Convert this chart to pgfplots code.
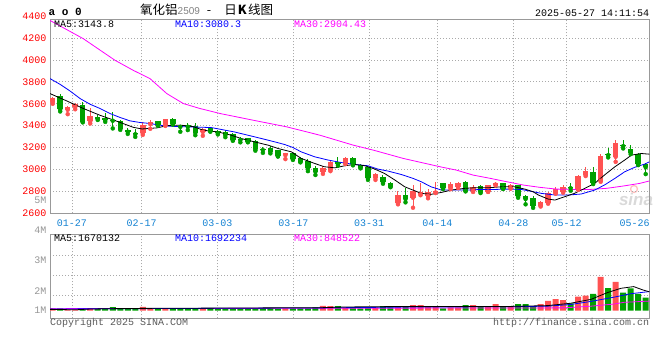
\documentclass[border=0pt]{standalone}
\usepackage{pgfplots}
\pgfplotsset{compat=1.18}
\usepackage{pgfplotstable}
\usepackage{fontspec}
\setmonofont{Liberation Mono}
\setsansfont{Liberation Sans}
\newfontfamily\cjk{Noto Sans CJK SC}
\definecolor{upc}{RGB}{255,82,82}
\definecolor{dnc}{RGB}{0,160,0}
\definecolor{framec}{RGB}{153,153,153}
\definecolor{gridc}{RGB}{170,170,170}
\definecolor{datec}{RGB}{20,130,210}
\definecolor{labgray}{RGB}{150,150,150}
\definecolor{ma10c}{RGB}{0,0,255}
\definecolor{ma30c}{RGB}{255,0,255}
\definecolor{copyc}{RGB}{90,90,90}

\pgfplotstableread{
i o h l c
0 3615 3665 3600 3650
2 3545 3578 3505 3572
3 3572 3610 3550 3600
5 3440 3562 3420 3490
12 3330 3438 3316 3405
13 3414 3448 3372 3434
15 3403 3465 3398 3460
20 3343 3380 3308 3374
31 3131 3155 3095 3152
36 2980 3034 2960 3015
37 2995 3085 2985 3070
39 3055 3112 3050 3107
43 2925 2970 2905 2955
46 2691 2803 2682 2767
48 2742 2858 2651 2803
49 2773 2873 2765 2790
50 2758 2821 2737 2797
51 2790 2888 2785 2800
53 2833 2885 2820 2872
54 2843 2890 2830 2873
56 2805 2855 2795 2842
58 2797 2862 2795 2858
59 2862 2890 2855 2880
61 2830 2870 2825 2862
65 2670 2715 2662 2706
66 2695 2795 2688 2788
67 2782 2840 2780 2818
68 2797 2855 2788 2836
70 2818 2950 2815 2940
71 2950 3019 2940 2988
73 2897 3140 2888 3122
75 3116 3268 3070 3243
}\upT

\pgfplotstableread{
i o h l c
1 3668 3690 3530 3548
4 3593 3617 3430 3435
6 3478 3500 3452 3460
7 3472 3520 3435 3450
8 3455 3525 3375 3445
9 3444 3450 3362 3371
10 3360 3378 3325 3345
11 3337 3371 3298 3322
14 3440 3442 3400 3404
16 3462 3468 3410 3415
17 3398 3404 3345 3389
18 3402 3420 3360 3390
19 3395 3420 3313 3335
21 3380 3385 3345 3350
22 3352 3362 3320 3330
23 3343 3365 3295 3315
24 3322 3330 3262 3268
25 3278 3298 3248 3269
26 3283 3288 3248 3253
27 3258 3268 3172 3183
28 3186 3207 3152 3177
29 3192 3216 3147 3162
30 3177 3180 3118 3122
32 3152 3158 3088 3092
33 3107 3115 3065 3070
34 3077 3095 2985 3010
35 3016 3034 2950 2980
38 3064 3116 3035 3050
40 3107 3112 3038 3048
41 3040 3050 3010 3018
42 3025 3034 2905 2920
44 2934 2950 2870 2882
45 2879 2882 2838 2843
47 2767 2828 2700 2730
52 2873 2880 2822 2828
55 2888 2895 2800 2805
57 2850 2855 2785 2793
60 2875 2878 2822 2825
62 2858 2862 2742 2755
63 2757 2767 2682 2730
64 2742 2758 2650 2670
69 2838 2873 2806 2829
72 2973 3019 2867 2880
74 3140 3192 3110 3131
76 3222 3268 3192 3213
77 3183 3222 3140 3152
78 3140 3150 3040 3048
79 3050 3055 2958 3020
}\dnT

\pgfplotstableread{
x y
-0.36 3693
1.87 3626
4.08 3557
6.3 3495
8.53 3441
10.74 3385
11.9 3370
13.9 3380
15.2 3400
17 3405
18.7 3392
19.8 3365
20.7 3352
22 3343
23.8 3313
25.1 3283
26.9 3252
28.7 3222
30 3192
31.8 3161
33.1 3101
34.9 3055
36.2 3025
37.6 3015
38.9 3034
40.2 3046
41.6 3034
42.9 3004
44.2 2964
45.6 2903
46.9 2842
48 2812
49.1 2782
50.4 2773
51.8 2791
53.1 2812
54.9 2828
56.2 2833
58 2833
59.8 2842
61.5 2842
62.9 2821
64 2797
64.7 2767
66 2730
66.9 2721
68.2 2751
69.5 2782
70.9 2828
72.2 2873
73.5 2949
74.9 3025
76.2 3086
77.1 3131
78.4 3146
79.48 3140
}\maFive

\pgfplotstableread{
x y
-0.36 3830
0.97 3778
2.3 3717
3.64 3648
4.97 3596
6.3 3557
7.63 3511
8.97 3475
10.3 3444
11.63 3429
12.96 3420
14.3 3404
15.63 3395
18.29 3389
21.1 3383
22.5 3365
24.2 3343
26 3313
27.8 3283
29.6 3252
30.9 3228
32 3201
33.1 3161
34.9 3116
36.7 3086
38.4 3064
40.2 3046
42 3034
43.3 3004
44.7 2985
46.4 2955
48 2919
49.1 2888
50.4 2842
51.8 2812
53.6 2812
55.3 2812
57.1 2818
58.9 2818
60.7 2821
62.4 2818
64 2797
65.1 2782
66.9 2767
68.7 2767
70.4 2776
72.2 2812
73.5 2858
74.9 2919
76.2 2979
77.5 3019
78.9 3050
79.48 3070
}\maTen

\pgfplotstableread{
x y
-0.36 4361
4.08 4194
8.3 3997
10.74 3905
12.96 3830
15.2 3693
17.4 3602
19.6 3557
22.3 3511
26.7 3450
31.2 3389
35.6 3313
40.05 3222
42.7 3177
46.7 3101
51.6 3025
53.8 2994
56 2949
58.3 2919
60.5 2888
62.7 2858
64.9 2837
67.1 2821
69.4 2818
71.6 2818
73.8 2828
76 2849
78.2 2873
79.48 2895
}\maThirty

\pgfplotstableread{
i v
0 0.2
2 0.1
3 0.1
5 0.2
12 0.35
13 0.2
15 0.2
20 0.22
31 0.2
36 0.42
37 0.41
39 0.3
43 0.3
46 0.3
48 0.5
49 0.5
50 0.41
51 0.41
53 0.3
54 0.3
56 0.5
58 0.41
59 0.59
61 0.35
65 0.59
66 0.88
67 1.03
68 0.945
70 1.24
71 1.33
73 3.0
75 2.54
}\upV

\pgfplotstableread{
i v
1 0.2
4 0.12
6 0.2
7 0.2
8 0.32
9 0.2
10 0.2
11 0.2
14 0.2
16 0.2
17 0.2
18 0.2
19 0.2
21 0.2
22 0.2
23 0.2
24 0.2
25 0.18
26 0.2
27 0.2
28 0.2
29 0.2
30 0.2
32 0.2
33 0.2
34 0.2
35 0.3
38 0.41
40 0.3
41 0.21
42 0.3
44 0.41
45 0.3
47 0.41
52 0.21
55 0.5
57 0.41
60 0.41
62 0.59
63 0.59
64 0.35
69 0.65
72 1.48
74 2.0
76 1.59
77 1.98
78 1.48
79 1.15
}\dnV

\pgfplotstableread{
x y
-0.36 0.12
3 0.08
5 0.15
10 0.2
36 0.27
39 0.33
48 0.38
61 0.38
65.9 0.45
69 0.66
71.7 1.0
73.9 1.6
75.7 1.98
77.4 2.13
78.6 1.84
79.48 1.67
}\vmaFive

\pgfplotstableread{
x y
-0.36 0.15
36 0.25
48 0.33
61 0.35
65.9 0.4
69 0.55
71.7 0.82
74.8 1.2
77 1.5
79.48 1.69
}\vmaTen

\pgfplotstableread{
x y
-0.36 0.18
68 0.25
71.7 0.4
74.8 0.59
76.1 0.74
79.48 0.85
}\vmaThirty

\begin{document}
\begin{tikzpicture}
\path[use as bounding box] (0pt,0pt) rectangle (660pt,360pt);
% watermark
\node[anchor=base, text=gray!30, inner sep=0] at (636pt,155pt) {\sffamily\bfseries\itshape\fontsize{17}{17}\selectfont sina};
\draw[red!25, line width=1.3pt] (634pt,171pt) circle (3.5pt);

\begin{axis}[at={(50pt,146.7pt)}, anchor=south west, scale only axis,
  width=599.3pt, height=194.3pt,
  xmin=-0.36, xmax=79.48, ymin=2600, ymax=4374,
  axis line style={draw=framec, line width=1pt},
  xtick={2.57,11.86,21.93,32.05,42.14,51.24,61.37,68.48},
  xticklabels={01-27,02-17,03-03,03-17,03-31,04-14,04-28,05-12},
  extra x ticks={77.54}, extra x tick labels={05-26},
  extra x tick style={grid=none},
  ytick={2600,2800,...,4200},
  major tick length=0pt,
  grid=major,
  major grid style={draw=gridc, dash pattern=on 1pt off 2pt, line width=0.8pt},
  xticklabel style={font=\ttfamily\fontsize{10}{10}\selectfont, text=datec, yshift=-2.5pt},
  yticklabel style={font=\ttfamily\fontsize{10}{10}\selectfont, text=red},
  /pgf/number format/assume math mode=true,
  /pgf/number format/1000 sep={},
]
% wicks
\addplot[upc, only marks, mark=none, error bars/.cd, y dir=plus, y explicit, error mark=none,
  error bar style={upc, line width=1pt}]
  table[x=i, y=l, y error plus expr=\thisrow{h}-\thisrow{l}] {\upT};
\addplot[dnc, only marks, mark=none, error bars/.cd, y dir=plus, y explicit, error mark=none,
  error bar style={dnc, line width=1pt}]
  table[x=i, y=l, y error plus expr=\thisrow{h}-\thisrow{l}] {\dnT};
% bodies
\addplot[upc, only marks, mark=none, error bars/.cd, y dir=plus, y explicit, error mark=none,
  error bar style={upc, line width=5.5pt}]
  table[x=i, y=o, y error plus expr=\thisrow{c}-\thisrow{o}] {\upT};
\addplot[dnc, only marks, mark=none, error bars/.cd, y dir=plus, y explicit, error mark=none,
  error bar style={dnc, line width=5.5pt}]
  table[x=i, y=c, y error plus expr=\thisrow{o}-\thisrow{c}] {\dnT};
% moving averages
\addplot[ma30c, line width=0.8pt, mark=none] table[x=x,y=y] {\maThirty};
\addplot[ma10c, line width=0.8pt, mark=none] table[x=x,y=y] {\maTen};
\addplot[black, line width=0.8pt, mark=none] table[x=x,y=y] {\maFive};
\end{axis}

\begin{axis}[at={(50pt,41.7pt)}, anchor=south west, scale only axis,
  width=599.3pt, height=84pt,
  xmin=-0.36, xmax=79.48, ymin=-0.671, ymax=6.75,
  axis line style={draw=framec, line width=1pt},
  xtick={2.57,11.86,21.93,32.05,42.14,51.24,61.37,68.48},
  xticklabels={},
  ytick={1.325,3.13,4.92}, yticklabels={},
  major tick length=0pt,
  grid=major,
  major grid style={draw=gridc, dash pattern=on 1pt off 2pt, line width=0.8pt},
]
\addplot[ybar, bar width=6pt, bar shift=0pt, fill=upc, draw=none] table[x=i,y=v] {\upV};
\addplot[ybar, bar width=6pt, bar shift=0pt, fill=dnc, draw=none] table[x=i,y=v] {\dnV};
\addplot[ma30c, line width=0.8pt, mark=none] table[x=x,y=y] {\vmaThirty};
\addplot[ma10c, line width=0.8pt, mark=none] table[x=x,y=y] {\vmaTen};
\addplot[black, line width=0.8pt, mark=none] table[x=x,y=y] {\vmaFive};
\end{axis}

% header texts
\node[anchor=base west, inner sep=0] at (48.5pt,344.3pt) {\ttfamily\bfseries\fontsize{11}{11}\selectfont a o 0};
\node[anchor=base west, inner sep=0] at (140pt,345.5pt) {\cjk\fontsize{12.5}{12.5}\selectfont 氧化铝{\color{gray}\sffamily\fontsize{10}{10}\selectfont 2509}\hspace{7pt}-\hspace{13pt}日\hspace{1pt}\textbf{K}\hspace{1.5pt}线图};
\node[anchor=base east, inner sep=0] at (649.3pt,344pt) {\ttfamily\fontsize{10}{10}\selectfont 2025-05-27 14:11:54};
% MA labels price
\node[anchor=base west, inner sep=0] at (54pt,332.7pt) {\ttfamily\fontsize{10}{10}\selectfont MA5:3143.8};
\node[anchor=base west, inner sep=0, text=ma10c] at (175pt,332.7pt) {\ttfamily\fontsize{10}{10}\selectfont MA10:3080.3};
\node[anchor=base west, inner sep=0, text=ma30c] at (294pt,332.7pt) {\ttfamily\fontsize{10}{10}\selectfont MA30:2904.43};
% MA labels volume
\node[anchor=base west, inner sep=0] at (54pt,118.3pt) {\ttfamily\fontsize{10}{10}\selectfont MA5:1670132};
\node[anchor=base west, inner sep=0, text=ma10c] at (175pt,118.3pt) {\ttfamily\fontsize{10}{10}\selectfont MA10:1692234};
\node[anchor=base west, inner sep=0, text=ma30c] at (294pt,118.3pt) {\ttfamily\fontsize{10}{10}\selectfont MA30:848522};
% 4400 label and volume labels
\node[anchor=east, inner sep=0, text=red] at (46.5pt,343.8pt) {\ttfamily\fontsize{10}{10}\selectfont 4400};
\node[anchor=east, inner sep=0, text=labgray] at (46.5pt,159.3pt) {\ttfamily\fontsize{10}{10}\selectfont 5M};
\node[anchor=east, inner sep=0, text=labgray] at (46.5pt,130pt) {\ttfamily\fontsize{10}{10}\selectfont 4M};
\node[anchor=east, inner sep=0, text=labgray] at (46.5pt,100pt) {\ttfamily\fontsize{10}{10}\selectfont 3M};
\node[anchor=east, inner sep=0, text=labgray] at (46.5pt,69.3pt) {\ttfamily\fontsize{10}{10}\selectfont 2M};
\node[anchor=east, inner sep=0, text=labgray] at (46.5pt,50pt) {\ttfamily\fontsize{10}{10}\selectfont 1M};
% footer
\node[anchor=base west, inner sep=0, text=copyc] at (50pt,34.5pt) {\ttfamily\fontsize{10}{10}\selectfont Copyright 2025 SINA.COM};
\node[anchor=base east, inner sep=0, text=copyc] at (649.3pt,34.5pt) {\ttfamily\fontsize{10}{10}\selectfont http://finance.sina.com.cn};
\end{tikzpicture}
\end{document}
